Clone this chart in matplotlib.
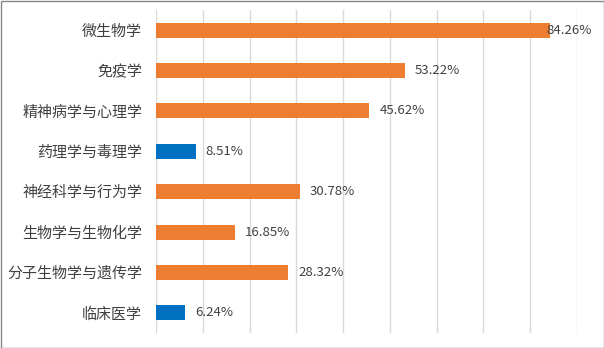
import matplotlib.pyplot as plt
from matplotlib.patches import Rectangle

categories = ['微生物学', '免疫学', '精神病学与心理学', '药理学与毒理学',
              '神经科学与行为学', '生物学与生物化学', '分子生物学与遗传学', '临床医学']
values = [84.26, 53.22, 45.62, 8.51, 30.78, 16.85, 28.32, 6.24]
highlight = ['药理学与毒理学', '临床医学']

plt.rcParams['font.family'] = ['Noto Sans CJK SC', 'DejaVu Sans']

orange = '#ED7D31'
blue = '#0070C0'
colors = [blue if c in highlight else orange for c in categories]

fig = plt.figure(figsize=(6.04, 3.48), dpi=100)
ax = fig.add_axes([156 / 604, 15 / 348, (577 - 156) / 604, 323 / 348])

y = list(range(len(categories)))
ax.barh(y, values, height=0.37, color=colors, zorder=2)
ax.set_ylim(len(categories) - 0.5, -0.5)
ax.set_xlim(0, 90)
ax.set_xticks(range(0, 91, 10))
ax.set_xticklabels([])
ax.set_yticks(y)
ax.set_yticklabels(categories, fontsize=10.8, color='#404040')
ax.tick_params(length=0, pad=10)
ax.grid(axis='x', color='#D9D9D9', linewidth=1, zorder=0)
for s in ax.spines.values():
    s.set_visible(False)

for yi, v in zip(y, values):
    off = -4 if v > 80 else 10
    ax.annotate(f'{v:.2f}%', (v, yi), xytext=(off, 0), textcoords='offset pixels',
                va='center', ha='left', fontsize=9.5, color='#404040', zorder=3)

fig.patches.append(Rectangle((0.5 / 604, 0.5 / 348), 603 / 604, 347 / 348,
                             transform=fig.transFigure, fill=False,
                             edgecolor='#878787', linewidth=1))

fig.savefig('out.png', dpi=100)
